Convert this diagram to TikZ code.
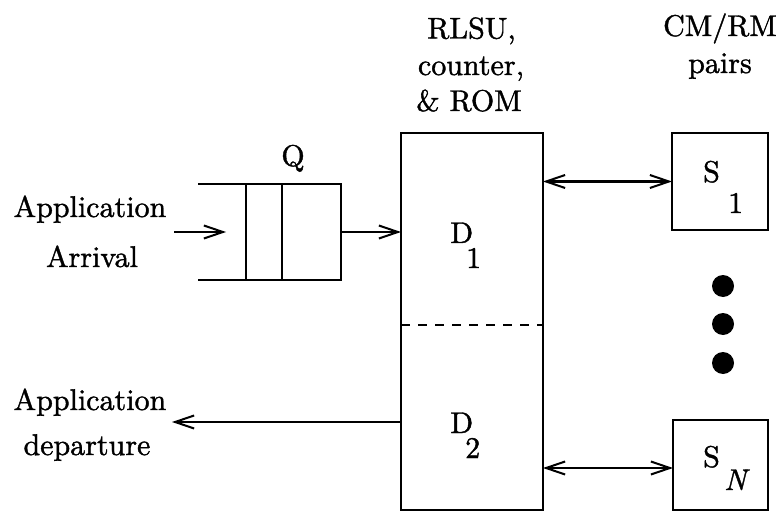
\documentclass[tikz,border=0pt]{standalone}
\usetikzlibrary{arrows.meta}
\font\bigrm="[lmroman10-regular]:mapping=tex-text;embolden=1.3" at 30pt
\font\bigit="[lmroman10-italic]:mapping=tex-text;embolden=1.3" at 30pt
\begin{document}
\begin{tikzpicture}[x=1pt,y=-1pt,
  line width=2.4pt,
  >={Straight Barb[length=19pt,width=13pt,line width=2pt]},
  box/.style={draw,line width=2.4pt,inner sep=0pt,outer sep=0pt},
  txt/.style={font=\bigrm,inner sep=0pt,anchor=base},
  sub/.style={font=\bigrm,inner sep=0pt,anchor=base west},
  dot/.style={circle,fill=black,inner sep=0pt,minimum size=22pt}]
\useasboundingbox (0,0) rectangle (779,513);

% main block
\node[box,minimum width=142pt,minimum height=377pt] (ctrl) at (472,321.5) {};
\coordinate (dl) at (ctrl.west |- 0,325);
\coordinate (dr) at (ctrl.east |- 0,325);
\draw[dash pattern=on 9pt off 8pt] (dl) -- (dr);

% queue
\node[box,minimum width=95pt,minimum height=96pt] (qbox) at (293.5,232) {};
\draw ([xshift=36pt]qbox.north west) -- ([xshift=36pt]qbox.south west);
\coordinate (qtl) at (198,184);
\coordinate (qbl) at (198,280);
\draw (qtl) -- (qbox.north west);
\draw (qbl) -- (qbox.south west);
\node[txt] (qlab) at (293,166) {Q};

% arrival
\coordinate (ain) at (174,232);
\coordinate (aout) at (226,232);
\draw[->] (ain) -- (aout);
\draw[->] (qbox.east) -- (qbox.east -| ctrl.west);
\node[txt] (arr1) at (90,217) {Application};
\node[txt] (arr2) at (92,267) {Arrival};

% departure
\coordinate (dsrc) at (ctrl.west |- 0,422);
\coordinate (dep) at (172,422);
\draw[->] (dsrc) -- (dep);
\node[txt] (dep1) at (90,410) {Application};
\node[txt] (dep2) at (87,455) {departure};

% top labels
\node[txt] (t1) at (471.5,38.5) {RLSU,};
\node[txt] (t2) at (471,75) {counter,};
\node[txt] (t3) at (469,111) {\& ROM};
\node[txt] (c1) at (720,36) {CM/RM};
\node[txt] (c2) at (720,73) {pairs};

% D labels
\node[sub] (d1) at (449,243) {D};
\node[sub] (d1s) at (465,268) {1};
\node[sub] (d2) at (449,433) {D};
\node[sub] (d2s) at (464,458) {2};

% servers
\node[box,minimum width=96pt,minimum height=97pt] (s1) at (720,181.5) {};
\node[box,minimum width=95pt,minimum height=90pt] (sn) at (720.5,465) {};
\coordinate (s1l) at (ctrl.east |- s1.west);
\draw[<->] (s1l) -- (s1.west);
\coordinate (snr) at ([yshift=-3pt]sn.west);
\coordinate (snl) at (ctrl.east |- snr);
\draw[<->] (snl) -- (snr);
\node[sub] (s1a) at (702,182) {S};
\node[sub] (s1b) at (727,213) {1};
\node[sub] (sna) at (702,467) {S};
\node[sub,font=\bigit] (snb) at (723,490) {N};

% dots
\node[dot] (dt1) at (723,286) {};
\node[dot] (dt2) at (723,324) {};
\node[dot] (dt3) at (723,363) {};
\end{tikzpicture}
\end{document}
